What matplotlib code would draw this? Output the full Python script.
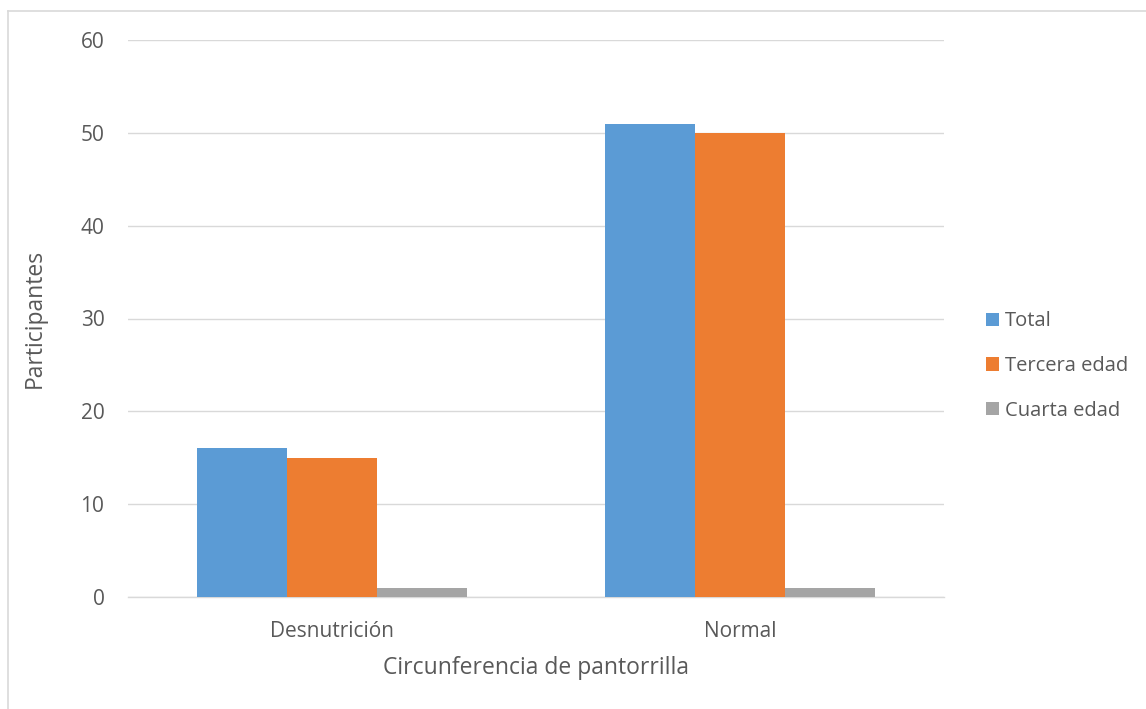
import numpy as np
import matplotlib.pyplot as plt
from matplotlib.lines import Line2D
from matplotlib.patches import Patch

# Participant counts by calf circumference class
categories = ["Desnutrición", "Normal"]
series = ["Total", "Tercera edad", "Cuarta edad"]
total = [16, 51]
tercera = [15, 50]
cuarta = [1, 1]
colors = ["#5B9BD5", "#ED7D31", "#A5A5A5"]

plt.rcParams["font.family"] = ["Open Sans", "DejaVu Sans"]
text_color = "#595959"

fig = plt.figure(figsize=(11.46, 7.09), dpi=100)
ax = fig.add_axes([128 / 1146, 112 / 709, 816 / 1146, 557 / 709])

x = np.arange(len(categories))
width = 0.221
for i, (vals, name) in enumerate(zip([total, tercera, cuarta], series)):
    ax.bar(x + (i - 1) * width, vals, width, color=colors[i], label=name, zorder=3)

ax.set_xlim(-0.5, 1.5)
ax.set_ylim(0, 60)
ax.set_yticks(range(0, 61, 10))
ax.set_xticks(x)
ax.set_xticklabels(categories)
ax.grid(axis="y", color="#D9D9D9", linewidth=1, zorder=0)
for s in ["top", "right", "left"]:
    ax.spines[s].set_visible(False)
ax.spines["bottom"].set_color("#D9D9D9")
ax.spines["bottom"].set_linewidth(1)
ax.tick_params(axis="both", length=0, labelsize=15, colors=text_color)
ax.tick_params(axis="y", pad=17)
ax.tick_params(axis="x", pad=17)

ax.set_xlabel("Circunferencia de pantorrilla", fontsize=16.5, color=text_color, labelpad=10)
ax.set_ylabel("Participantes", fontsize=16.5, color=text_color, labelpad=24)

handles = [Patch(facecolor=c, edgecolor="none") for c in colors]
leg = fig.legend(handles, series, loc="center left", bbox_to_anchor=(968 / 1146, 1 - 366 / 709),
                 frameon=False, fontsize=14.5, handlelength=0.65, handleheight=0.65,
                 handletextpad=0.3, labelspacing=1.22, labelcolor=text_color)

# thin border around the chart area
fig.add_artist(Line2D([7.5 / 1146, 1], [1 - 11 / 709, 1 - 11 / 709], color="#D9D9D9", lw=1.2))
fig.add_artist(Line2D([7.5 / 1146, 7.5 / 1146], [0, 1 - 11 / 709], color="#D9D9D9", lw=1.2))

fig.savefig("out.png", dpi=100)
